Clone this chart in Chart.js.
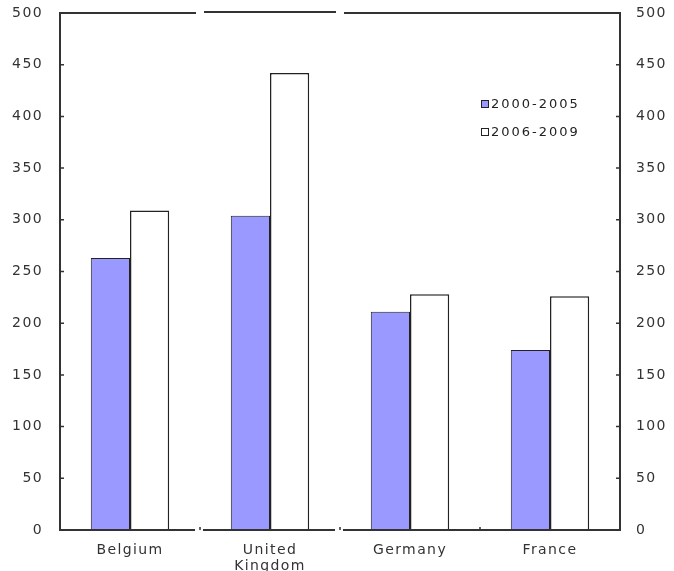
<!DOCTYPE html>
<html>
<head>
<meta charset="utf-8">
<script src="https://cdn.jsdelivr.net/npm/chart.js@4"></script>
<style>
  html, body { margin: 0; padding: 0; background: #fff; }
  #wrap { width: 674px; height: 571px; position: relative; }
</style>
</head>
<body>
<div id="wrap"><canvas id="graf"></canvas></div>
<script>
// podaci
const zemlje = ['Belgium', ['United', 'Kingdom'], 'Germany', 'France'];
const razdoblje1 = [263, 304, 211, 174];   // 2000-2005
const razdoblje2 = [309, 442, 228, 226];   // 2006-2009
const oznakeY = [0, 50, 100, 150, 200, 250, 300, 350, 400, 450, 500];

const fontTekst = { family: '"DejaVu Sans", Verdana, sans-serif', size: 14, lineHeight: 1.15 };

// razmak slova za sav tekst (tekst u originalu je širi)
const razmakPlugin = {
  id: 'razmak',
  beforeDraw(chart) { chart.ctx.letterSpacing = '1.4px'; }
};

// okvir s prekidima, kratke crtice prema unutra i legenda u grafu
const okvirPlugin = {
  id: 'okvir',
  afterDraw(chart) {
    const c = chart.ctx;
    const a = chart.chartArea;
    const y = chart.scales.y;
    const x = chart.scales.x;
    c.save();
    c.strokeStyle = '#333';
    c.lineWidth = 2;
    // granice kategorija
    const g1 = (x.getPixelForValue(0) + x.getPixelForValue(1)) / 2;
    const g2 = (x.getPixelForValue(1) + x.getPixelForValue(2)) / 2;
    const g3 = (x.getPixelForValue(2) + x.getPixelForValue(3)) / 2;
    // gornja linija
    c.beginPath();
    c.moveTo(a.left, a.top); c.lineTo(g1 - 4, a.top);
    c.moveTo(g1 + 4, a.top - 1); c.lineTo(g2 - 4, a.top - 1);
    c.moveTo(g2 + 4, a.top); c.lineTo(a.right, a.top);
    c.stroke();
    // donja linija
    c.beginPath();
    c.moveTo(a.left, a.bottom); c.lineTo(g1 - 5, a.bottom);
    c.moveTo(g1 + 3, a.bottom); c.lineTo(g2 - 5, a.bottom);
    c.moveTo(g2 + 3, a.bottom); c.lineTo(a.right, a.bottom);
    c.stroke();
    // crtice na granicama
    c.lineWidth = 1.5;
    c.beginPath();
    [g1, g2, g3].forEach(gx => { c.moveTo(gx, a.bottom); c.lineTo(gx, a.bottom - 3); });
    c.stroke();
    // crtice na osima
    c.beginPath();
    oznakeY.forEach(v => {
      const py = y.getPixelForValue(v);
      c.moveTo(a.left, py); c.lineTo(a.left + 4, py);
      c.moveTo(a.right, py); c.lineTo(a.right - 4, py);
    });
    c.stroke();
    // legenda
    const lx = 481, ly = [104, 132];
    c.font = '13px "DejaVu Sans", Verdana, sans-serif';
    c.letterSpacing = '2px';
    c.textBaseline = 'middle';
    chart.data.datasets.forEach((ds, i) => {
      c.fillStyle = ds.backgroundColor;
      c.strokeStyle = '#222';
      c.lineWidth = 1;
      c.fillRect(lx, ly[i] - 3.5, 7, 7);
      c.strokeRect(lx + 0.5, ly[i] - 3.5, 7, 7);
      c.fillStyle = '#222';
      c.fillText(ds.label, lx + 10, ly[i] + 1);
    });
    c.restore();
  }
};

// bez automatskog dodatka za polovinu oznake
function bezPadinga(s) { s.paddingTop = 0; s.paddingBottom = 0; }

const ctx = document.getElementById('graf').getContext('2d');
new Chart(ctx, {
  type: 'bar',
  data: {
    labels: zemlje,
    datasets: [
      {
        label: '2000-2005',
        data: razdoblje1,
        backgroundColor: '#9999ff',
        borderColor: '#222',
        borderWidth: 1
      },
      {
        label: '2006-2009',
        data: razdoblje2,
        backgroundColor: '#ffffff',
        borderColor: '#222',
        borderWidth: { top: 1.5, left: 1.5, right: 1.5, bottom: 3 }
      }
    ]
  },
  options: {
    responsive: true,
    maintainAspectRatio: false,
    animation: false,
    datasets: { bar: { categoryPercentage: 0.56, barPercentage: 1.0 } },
    layout: { padding: { top: 13, left: 0, right: 0, bottom: 0 } },
    plugins: { legend: { display: false }, tooltip: { enabled: false } },
    scales: {
      x: {
        grid: { display: false, drawTicks: false },
        border: { display: false },
        ticks: { color: '#333', font: fontTekst, padding: 12, maxRotation: 0, autoSkip: false },
        afterFit(s) { s.height = 41; s.paddingLeft = 0; s.paddingRight = 0; }
      },
      y: {
        position: 'left',
        min: 0, max: 500,
        grid: { display: false, drawTicks: false },
        border: { display: true, color: '#333', width: 2 },
        ticks: { stepSize: 50, color: '#333', font: fontTekst, padding: 17 },
        afterFit(s) { s.width = 60; bezPadinga(s); }
      },
      y2: {
        position: 'right',
        min: 0, max: 500,
        grid: { display: false, drawTicks: false },
        border: { display: true, color: '#333', width: 2 },
        ticks: { stepSize: 50, color: '#333', font: fontTekst, padding: 16 },
        afterFit(s) { s.width = 54; bezPadinga(s); }
      }
    }
  },
  plugins: [razmakPlugin, okvirPlugin]
});
</script>
</body>
</html>
